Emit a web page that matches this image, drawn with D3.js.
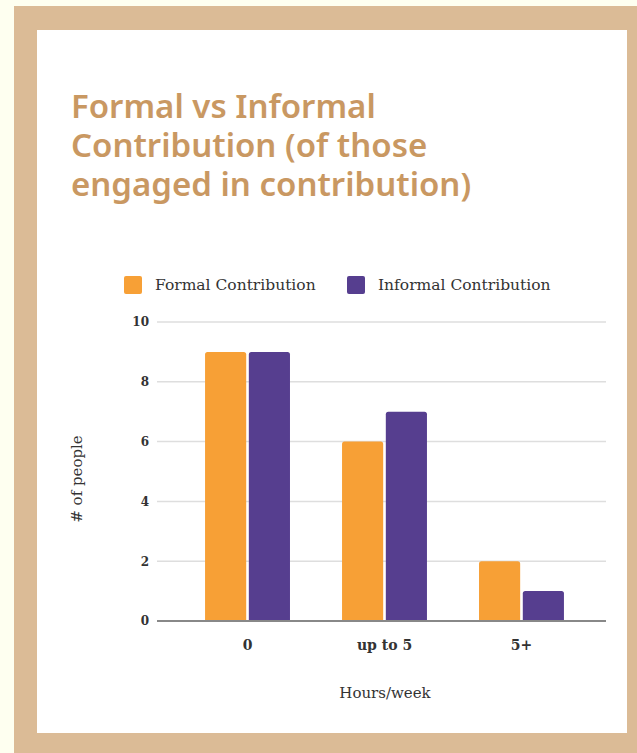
<!DOCTYPE html>
<html>
<head>
<meta charset="utf-8">
<script src="https://cdn.jsdelivr.net/npm/d3@7"></script>
<style>
  html, body { margin: 0; padding: 0; background: #FEFFF0; }
  svg { display: block; }
</style>
</head>
<body>
<svg id="chart" width="637" height="753"></svg>
<script>
// Data
const categories = ["0", "up to 5", "5+"];
const seriesNames = ["Formal Contribution", "Informal Contribution"];
const formalValues = [9, 6, 2];
const informalValues = [9, 7, 1];
const yTicks = [0, 2, 4, 6, 8, 10];
const titleLines = ["Formal vs Informal", "Contribution (of those", "engaged in contribution)"];

const colors = { "Formal Contribution": "#F7A036", "Informal Contribution": "#563E8F" };
const seriesValues = { "Formal Contribution": formalValues, "Informal Contribution": informalValues };

const svg = d3.select("#chart");
const W = 637, H = 753;

// Frame: cream page, tan border, white card
svg.append("rect").attr("x", 0).attr("y", 0).attr("width", W).attr("height", H).attr("fill", "#FEFFF0");
svg.append("rect").attr("x", 14).attr("y", 6).attr("width", W - 14).attr("height", H - 6).attr("fill", "#DBBB96");
svg.append("rect").attr("x", 37).attr("y", 30).attr("width", 590).attr("height", 703).attr("fill", "#FFFFFF");

// Title
const title = svg.append("text")
  .attr("font-family", "'Noto Sans', 'Open Sans', sans-serif")
  .attr("font-weight", 600)
  .attr("font-size", 33)
  .attr("fill", "#C99862");
title.selectAll("tspan").data(titleLines).join("tspan")
  .attr("x", 71)
  .attr("y", (d, i) => 118 + i * 39)
  .text(d => d);

const serif = "'DejaVu Serif', 'Liberation Serif', serif";

// Scales
const plotLeft = 157, plotRight = 606;
const y = d3.scaleLinear().domain([0, 10]).range([621, 322]);
const x0 = d3.scaleBand().domain(categories).range([163, 606]).paddingInner(0.38).paddingOuter(0.307);
const x1 = d3.scaleBand().domain(seriesNames).range([0, x0.bandwidth()]).paddingInner(0.06);

// Grid lines
const grid = svg.append("g");
grid.selectAll("line").data(yTicks.filter(t => t !== 0)).join("line")
  .attr("x1", plotLeft).attr("x2", plotRight)
  .attr("y1", d => y(d)).attr("y2", d => y(d))
  .attr("stroke", "#DEDEDE").attr("stroke-width", 1.5);

// Y axis labels
const yAxis = svg.append("g").attr("transform", `translate(${plotLeft - 8},0)`)
  .call(d3.axisLeft(y).tickValues(yTicks).tickSize(0).tickPadding(0));
yAxis.select(".domain").remove();
yAxis.selectAll("text")
  .attr("font-family", serif).attr("font-size", 12).attr("font-weight", 700)
  .attr("fill", "#333");

// Bars with slightly rounded top corners
function barPath(xp, yp, w, h, r) {
  r = Math.min(r, h, w / 2);
  return `M${xp},${yp + h}V${yp + r}Q${xp},${yp} ${xp + r},${yp}H${xp + w - r}Q${xp + w},${yp} ${xp + w},${yp + r}V${yp + h}Z`;
}
const barData = [];
categories.forEach((c, i) => {
  seriesNames.forEach(s => barData.push({ cat: c, series: s, value: seriesValues[s][i] }));
});
svg.append("g").selectAll("path").data(barData).join("path")
  .attr("d", d => barPath(x0(d.cat) + x1(d.series), y(d.value), x1.bandwidth(), y(0) - y(d.value), 2.5))
  .attr("fill", d => colors[d.series]);

// Baseline
svg.append("line")
  .attr("x1", plotLeft).attr("x2", plotRight)
  .attr("y1", y(0)).attr("y2", y(0))
  .attr("stroke", "#888").attr("stroke-width", 2);

// X axis labels
const xAxis = svg.append("g").attr("transform", `translate(0,${y(0) + 19})`)
  .call(d3.axisBottom(x0).tickSize(0).tickPadding(0));
xAxis.select(".domain").remove();
xAxis.selectAll("text")
  .attr("font-family", serif).attr("font-size", 14).attr("font-weight", 700)
  .attr("fill", "#333");

// Axis titles
svg.append("text")
  .attr("x", 385).attr("y", 698)
  .attr("text-anchor", "middle")
  .attr("font-family", serif).attr("font-size", 15)
  .attr("fill", "#333")
  .text("Hours/week");
svg.append("text")
  .attr("transform", "translate(82,479) rotate(-90)")
  .attr("text-anchor", "middle")
  .attr("font-family", serif).attr("font-size", 15)
  .attr("fill", "#333")
  .text("# of people");

// Legend
const legendItems = [
  { name: seriesNames[0], sx: 124, tx: 155 },
  { name: seriesNames[1], sx: 347, tx: 378 }
];
const legend = svg.append("g");
legend.selectAll("rect").data(legendItems).join("rect")
  .attr("x", d => d.sx).attr("y", 276).attr("width", 18).attr("height", 18).attr("rx", 2)
  .attr("fill", d => colors[d.name]);
legend.selectAll("text").data(legendItems).join("text")
  .attr("x", d => d.tx).attr("y", 290)
  .attr("font-family", serif).attr("font-size", 15.5)
  .attr("fill", "#333")
  .text(d => d.name);
</script>
</body>
</html>
